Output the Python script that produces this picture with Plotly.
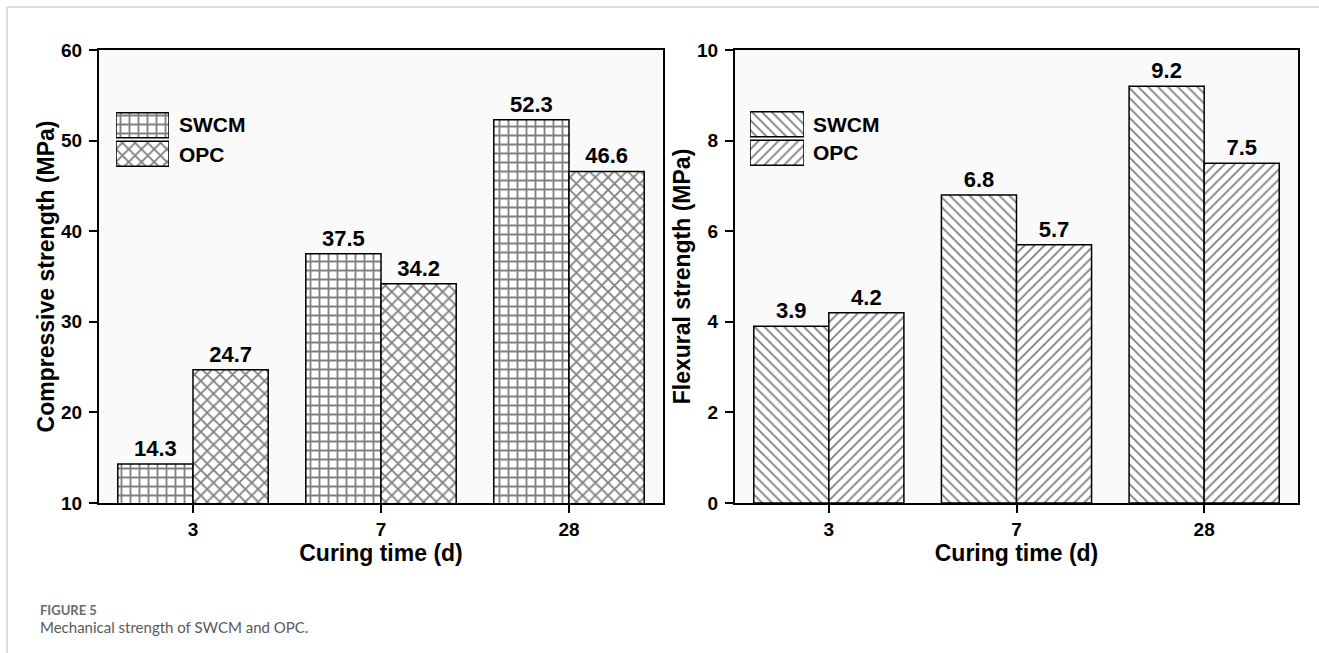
import plotly.graph_objects as go

# Curing ages and measured strengths
curing_days = ["3", "7", "28"]
series_names = ["SWCM", "OPC"]
swcm_compressive = [14.3, 37.5, 52.3]
opc_compressive = [24.7, 34.2, 46.6]
swcm_flexural = [3.9, 6.8, 9.2]
opc_flexural = [4.2, 5.7, 7.5]
compressive_ticks = [10, 20, 30, 40, 50, 60]
flexural_ticks = [0, 2, 4, 6, 8, 10]

W, H = 1319, 653


def fx(p):
    return p / W


def fy(p):
    return 1 - p / H


FAMILY = "Liberation Sans, Arial, Helvetica, sans-serif"
TICK_FONT = dict(family=FAMILY, size=19, color="black", weight="bold")
TITLE_FONT = dict(family=FAMILY, size=23, color="black", weight="bold")
VALUE_FONT = dict(family=FAMILY, size=22, color="black", weight="bold")

# hatch styles per panel / series
compressive_patterns = [dict(shape="+", size=9, solidity=0.36),
                        dict(shape="x", size=9, solidity=0.36)]
flexural_patterns = [dict(shape="\\", size=7, solidity=0.26),
                     dict(shape="/", size=7, solidity=0.26)]


def hatched_bar(x, y, pat, xa, ya, name):
    return go.Bar(
        x=x, y=y, name=name, xaxis=xa, yaxis=ya, showlegend=False,
        marker=dict(color="white", line=dict(color="black", width=1.5),
                    pattern=dict(shape=pat["shape"], size=pat["size"],
                                 solidity=pat["solidity"], fgcolor="black",
                                 fillmode="overlay")),
        texttemplate="%{y:.1f}", textposition="outside", textfont=VALUE_FONT,
        cliponaxis=False,
    )


fig = go.Figure()
fig.add_trace(hatched_bar(curing_days, swcm_compressive, compressive_patterns[0], "x", "y", "SWCM"))
fig.add_trace(hatched_bar(curing_days, opc_compressive, compressive_patterns[1], "x", "y", "OPC"))
fig.add_trace(hatched_bar(curing_days, swcm_flexural, flexural_patterns[0], "x2", "y2", "SWCM"))
fig.add_trace(hatched_bar(curing_days, opc_flexural, flexural_patterns[1], "x2", "y2", "OPC"))


# legend swatches: one hatched box per series
def swatch(pats, xa, ya):
    return go.Bar(
        x=[1, 1], y=series_names, orientation="h", width=0.87,
        xaxis=xa, yaxis=ya, showlegend=False, hoverinfo="skip",
        marker=dict(color="white", line=dict(color="black", width=1.5),
                    pattern=dict(shape=[p["shape"] for p in pats],
                                 size=[p["size"] for p in pats],
                                 solidity=[p["solidity"] for p in pats],
                                 fgcolor="black", fillmode="overlay")),
    )


fig.add_trace(swatch(compressive_patterns, "x3", "y3"))
fig.add_trace(swatch(flexural_patterns, "x4", "y4"))

frame = dict(showline=True, linecolor="black", linewidth=2, mirror=True,
             ticks="outside", ticklen=8, tickwidth=2, tickcolor="black",
             showgrid=False, zeroline=False, automargin=False,
             tickfont=TICK_FONT)

fig.update_layout(
    width=W, height=H,
    margin=dict(l=0, r=0, t=0, b=0),
    paper_bgcolor="white", plot_bgcolor="#fafafa",
    template="none",
    barmode="group", bargap=0.2, bargroupgap=0,
    showlegend=False,
    xaxis=dict(frame, domain=[fx(99), fx(663)], anchor="y", type="category",
               ticklabelstandoff=0,
               title=dict(text="Curing time (d)", font=TITLE_FONT, standoff=4)),
    yaxis=dict(frame, domain=[fy(503), fy(50)], anchor="x", range=[10, 60],
               tickvals=compressive_ticks, ticklabelstandoff=3,
               title=dict(text="Compressive strength (MPa)", font=TITLE_FONT, standoff=0)),
    xaxis2=dict(frame, domain=[fx(735), fx(1298)], anchor="y2", type="category",
                ticklabelstandoff=0,
                title=dict(text="Curing time (d)", font=TITLE_FONT, standoff=4)),
    yaxis2=dict(frame, domain=[fy(503), fy(50)], anchor="x2", range=[0, 10],
                tickvals=flexural_ticks, ticklabelstandoff=3,
                title=dict(text="Flexural strength (MPa)", font=TITLE_FONT, standoff=0)),
    xaxis3=dict(domain=[fx(116), fx(169)], anchor="y3", range=[0, 1], visible=False),
    yaxis3=dict(domain=[fy(168), fy(111)], anchor="x3", type="category",
                autorange="reversed", visible=False),
    xaxis4=dict(domain=[fx(750), fx(804)], anchor="y4", range=[0, 1], visible=False),
    yaxis4=dict(domain=[fy(167), fy(110)], anchor="x4", type="category",
                autorange="reversed", visible=False),
)

# legend labels
LEG_FONT = dict(family=FAMILY, size=21, color="black", weight="bold")
for x0, ys in ((177, (125, 154)), (811, (124, 153))):
    for name, yc in zip(series_names, ys):
        fig.add_annotation(x=fx(x0), y=fy(yc), xref="paper", yref="paper",
                           text=name, showarrow=False, xanchor="left",
                           yanchor="middle", font=LEG_FONT)

# caption
fig.add_annotation(x=fx(38), y=fy(610), xref="paper", yref="paper",
                   text="FIGURE 5", showarrow=False, xanchor="left", yanchor="middle",
                   font=dict(family="Lato, Open Sans, sans-serif", size=13, color="#6a6a6a",
                             weight="bold"))
fig.add_annotation(x=fx(38), y=fy(627), xref="paper", yref="paper",
                   text="Mechanical strength of SWCM and OPC.", showarrow=False,
                   xanchor="left", yanchor="middle",
                   font=dict(family="Lato, Open Sans, sans-serif", size=15, color="#5a5a5a"))

# page card border (top and left edges)
fig.add_shape(type="line", xref="paper", yref="paper", x0=fx(7), x1=1, y0=fy(7), y1=fy(7),
              line=dict(color="#dcdcdc", width=2))
fig.add_shape(type="line", xref="paper", yref="paper", x0=fx(7), x1=fx(7), y0=0, y1=fy(7),
              line=dict(color="#dcdcdc", width=2))

fig.write_html("out.html")
